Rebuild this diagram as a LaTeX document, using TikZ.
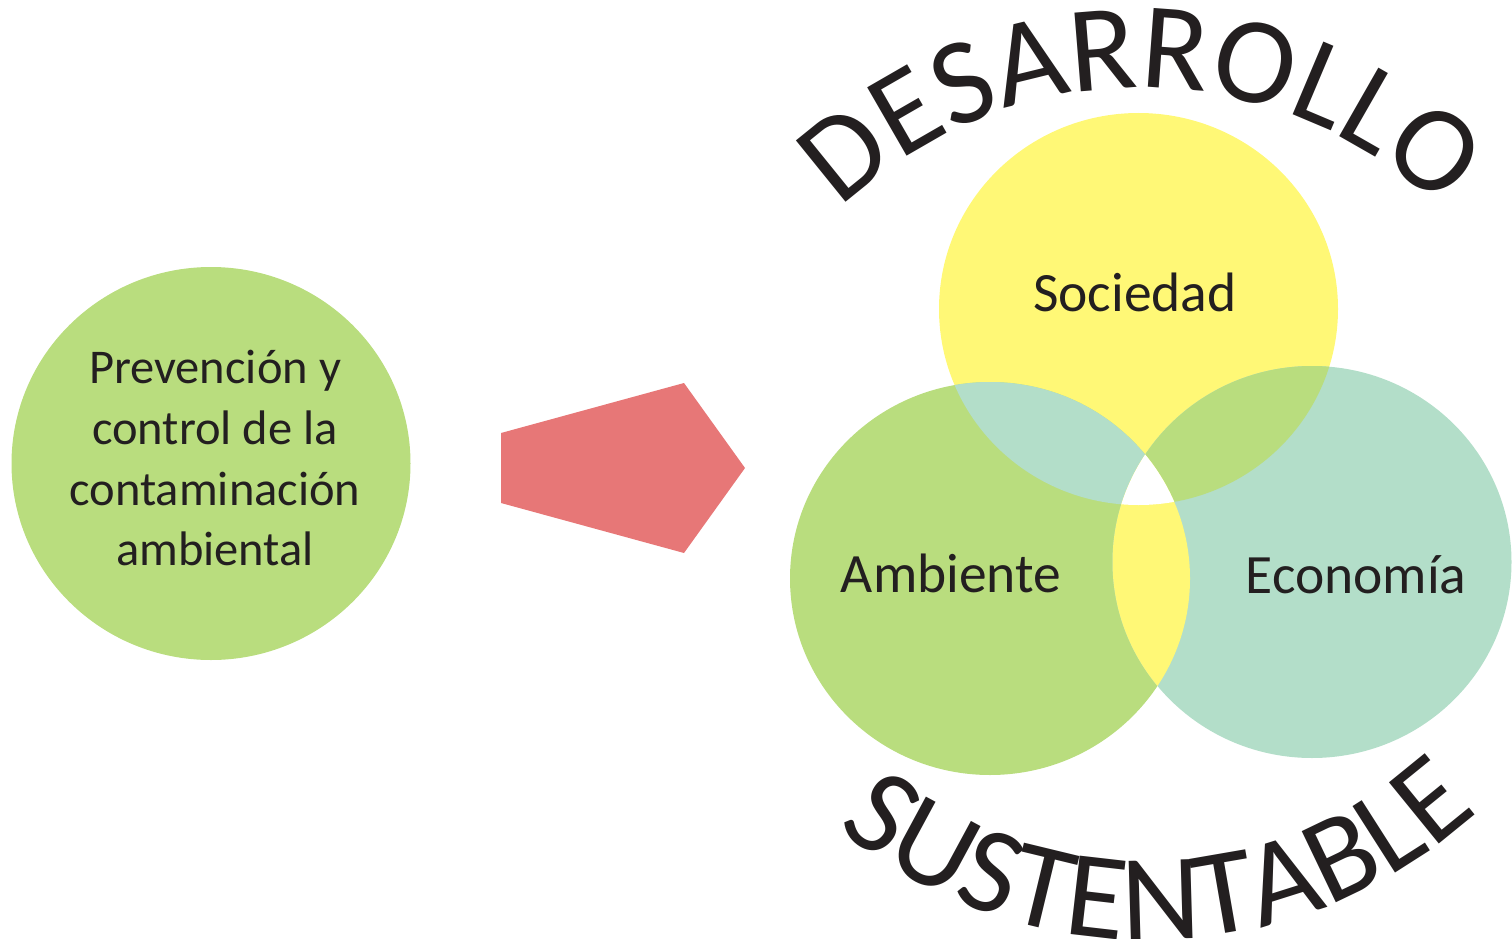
\documentclass[tikz,border=0pt]{standalone}
\usepackage{fontspec}
\setmainfont{Carlito}
\usetikzlibrary{decorations.text}
\definecolor{ink}{RGB}{35,31,32}
\definecolor{leaf}{RGB}{185,221,126}
\definecolor{sun}{RGB}{255,248,118}
\definecolor{mint}{RGB}{179,222,201}
\definecolor{salmon}{RGB}{231,119,119}
\newcommand{\arcfont}{\fontsize{123}{123}\selectfont}
\def\socpath{(1138.5,-309) ellipse[x radius=199.5pt, y radius=196pt]}
\def\ambpath{(990,-578.5) ellipse[x radius=200pt, y radius=196.5pt]}
\def\ecopath{(1312,-562) ellipse[x radius=199.5pt, y radius=196pt]}
\begin{document}
\begin{tikzpicture}[x=1pt,y=1pt,
  lbl/.style={anchor=base, text=ink, inner sep=0pt, font=\fontsize{55.5}{66}\selectfont},
  small/.style={anchor=base, text=ink, inner sep=0pt, font=\fontsize{48.5}{60}\selectfont},
  arctext/.style={decorate, decoration={text along path, text align=center, text={|\arcfont\color{ink}|#1}}}]
\useasboundingbox (0,0) rectangle (1512,-939);
% left circle
\fill[leaf] (211,-463.5) ellipse[x radius=199.5pt, y radius=196.5pt];
\node[small] (t1) at (215,-383) {Prevención y};
\node[small] (t2) at (215,-444) {control de la};
\node[small] (t3) at (215,-505) {contaminación};
\node[small] (t4) at (215,-565) {ambiental};
% arrow
\fill[salmon] (501,-433) -- (684,-383) -- (745,-468) -- (684,-553) -- (501,-503) -- cycle;
% venn
\fill[sun] \socpath;
\fill[leaf] \ambpath;
\fill[mint] \ecopath;
\begin{scope}\clip \socpath; \fill[mint] \ambpath; \end{scope}
\begin{scope}\clip \socpath; \fill[leaf] \ecopath; \end{scope}
\begin{scope}\clip \ambpath; \fill[sun] \ecopath; \end{scope}
\begin{scope}\clip \socpath; \clip \ambpath; \fill[white] \ecopath; \end{scope}
\node[lbl] (soc) at (1135,-311) {Sociedad};
\node[lbl] (amb) at (951,-592) {Ambiente};
\node[lbl] (eco) at (1356,-593) {Economía};
% curved titles
\path[arctext=DESARROLLO] (1141,-520) ++(140:432pt) arc[start angle=140, end angle=40, radius=432pt];
\path[arctext=SUSTENTABLE] (1148,-452) ++(225:488pt) arc[start angle=225, end angle=318, radius=488pt];
\end{tikzpicture}
\end{document}
